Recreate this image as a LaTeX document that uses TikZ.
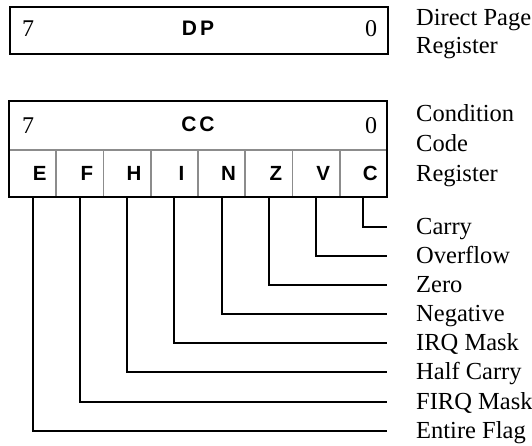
\documentclass[tikz,border=0pt]{standalone}
\usepackage{fontspec}
\setmainfont{Liberation Serif}
\newfontfamily\hvfont{Liberation Sans}
\definecolor{divgray}{HTML}{8C8C8C}
\tikzset{
  regbox/.style={draw=black, line width=2.2pt},
  divline/.style={draw=divgray, line width=1.6pt},
  conn/.style={draw=black, line width=2pt},
  serif/.style={font=\fontsize{24.5}{29.5}\selectfont, inner sep=0pt},
  bitno/.style={font=\fontsize{24}{28}\selectfont, inner sep=0pt},
  regname/.style={font=\hvfont\bfseries\fontsize{21}{24}\selectfont, inner sep=0pt},
  cell/.style={minimum width=47.25pt, minimum height=47pt, inner sep=0pt,
               font=\hvfont\bfseries\fontsize{20.5}{23}\selectfont},
  desc/.style={serif, anchor=base west},
}
\begin{document}
\begin{tikzpicture}[x=1pt,y=-1pt]
\useasboundingbox (0,0) rectangle (532,445);

% DP register
\node[regbox, minimum width=378pt, minimum height=47pt, inner sep=0pt, anchor=north west] (dp) at (9,5.5) {};
\node[bitno] (dp7) at (28,28.5) {7};
\node[bitno] (dp0) at (371,28.5) {0};
\node[regname] (dpname) at (198,28) {D\kern3pt P};
\node[serif, font=\fontsize{24.5}{28}\selectfont, align=left, anchor=base west] (dplab) at (416,53.3) {Direct Page\\Register};

% CC register
\node[minimum width=378pt, minimum height=49pt, inner sep=0pt, anchor=north west] (cctop) at (9,101) {};
\node[bitno] (cc7) at (28,125.5) {7};
\node[bitno] (cc0) at (371,126) {0};
\node[regname] (ccname) at (198,124.5) {C\kern3pt C};
\node[serif, font=\fontsize{24.5}{30}\selectfont, align=left, anchor=base west] (cclab) at (416,181.7) {Condition\\Code\\Register};

\foreach \l [count=\i from 0] in {E,F,H,I,N,Z,V,C} {
  \node[cell] (c\l) at ({32.625+47.25*\i},173.5) {\hspace*{14pt}\l};
}
\draw[divline] (9,150) -- (387,150);
\foreach \i in {1,...,7} {
  \draw[divline] ({9+47.25*\i},150) -- ({9+47.25*\i},197);
}
\draw[regbox] (9,101) rectangle (387,197);

% connectors and labels
\foreach \l/\t [count=\k from 0] in {C/Carry,V/Overflow,Z/Zero,N/Negative,I/IRQ Mask,H/Half Carry,F/FIRQ Mask,E/Entire Flag} {
  \coordinate (t\l) at (387,{226.7+29.15*\k});
  \node[desc] (l\l) at (416,{226.7+29.15*\k+7.5}) {\t};
  \draw[conn] (c\l.south) |- (t\l);
}
\end{tikzpicture}
\end{document}
